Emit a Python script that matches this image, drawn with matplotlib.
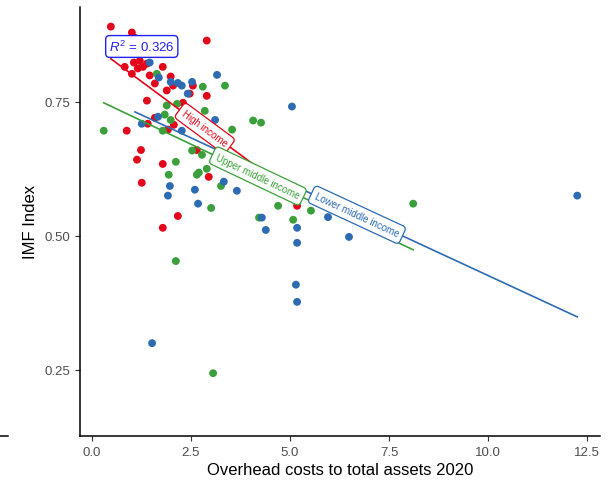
import matplotlib
matplotlib.use("Agg")
import matplotlib.pyplot as plt
import numpy as np

plt.rcParams['font.family'] = ['Liberation Sans', 'DejaVu Sans']
plt.rcParams['mathtext.fontset'] = 'custom'
plt.rcParams['mathtext.rm'] = 'Liberation Sans'
plt.rcParams['mathtext.it'] = 'Liberation Sans:italic'

RED = '#E3061B'
GREEN = '#3BA03B'
BLUE = '#2D6BB3'

# High income
high_x = [0.48, 1.01, 1.09, 2.90, 0.83, 1.06, 1.21, 1.16, 1.29, 1.01, 1.39, 1.79,
          1.46, 1.59, 1.99, 2.05, 1.89, 2.55, 2.47, 1.39, 2.30, 2.90, 1.59, 1.41,
          2.07, 1.92, 0.88, 1.24, 1.14, 2.65, 1.79, 1.26, 2.95, 2.17, 1.79, 5.18]
high_y = [0.890, 0.879, 0.869, 0.864, 0.815, 0.823, 0.826, 0.812, 0.815, 0.802, 0.821, 0.815,
          0.799, 0.784, 0.797, 0.780, 0.771, 0.780, 0.765, 0.752, 0.748, 0.761, 0.720, 0.709,
          0.707, 0.698, 0.696, 0.660, 0.642, 0.660, 0.634, 0.599, 0.610, 0.537, 0.515, 0.556]

# Upper middle income
upper_x = [1.64, 2.80, 3.36, 1.89, 2.15, 1.84, 1.99, 2.85, 4.07, 4.27, 1.79, 3.54,
           0.30, 2.53, 2.78, 2.12, 1.94, 2.65, 2.70, 2.90, 3.26, 3.01, 4.22, 4.70,
           5.08, 5.53, 8.11, 2.12, 3.06]
upper_y = [0.802, 0.778, 0.780, 0.743, 0.746, 0.726, 0.716, 0.733, 0.715, 0.711, 0.696, 0.698,
           0.696, 0.659, 0.651, 0.638, 0.614, 0.614, 0.618, 0.625, 0.593, 0.552, 0.534, 0.556,
           0.530, 0.547, 0.560, 0.453, 0.244]

# Lower middle income
lower_x = [1.46, 1.69, 1.99, 2.17, 2.27, 2.53, 2.42, 3.16, 1.67, 1.26, 2.27, 3.11,
           5.05, 1.97, 1.92, 2.60, 2.68, 3.33, 3.66, 4.29, 4.39, 5.18, 5.18, 5.96,
           6.49, 5.15, 5.18, 1.52, 12.25]
lower_y = [0.823, 0.795, 0.787, 0.785, 0.780, 0.787, 0.765, 0.800, 0.722, 0.709, 0.696, 0.716,
           0.741, 0.593, 0.575, 0.586, 0.560, 0.601, 0.584, 0.534, 0.511, 0.515, 0.487, 0.535,
           0.498, 0.409, 0.377, 0.300, 0.575]

# fitted lines (end points)
high_fit_x, high_fit_y = [0.48, 5.18], [0.830, 0.573]
upper_fit_x, upper_fit_y = [0.30, 8.11], [0.748, 0.474]
lower_fit_x, lower_fit_y = [1.09, 12.25], [0.731, 0.349]

# label positions along the lines
labels = ['High income', 'Upper middle income', 'Lower middle income']
label_x = [2.85, 4.19, 6.69]

r2_text = r'$R^2$ = 0.326'
r2_x, r2_y = 1.26, 0.853

fig = plt.figure(figsize=(6.15, 4.85), dpi=100)
ax = fig.add_axes([0.130, 0.099, 0.846, 0.885])

groups = [
    (high_x, high_y, high_fit_x, high_fit_y, RED),
    (upper_x, upper_y, upper_fit_x, upper_fit_y, GREEN),
    (lower_x, lower_y, lower_fit_x, lower_fit_y, BLUE),
]

for xs, ys, fx, fy, c in groups:
    ax.scatter(xs, ys, s=32, color=c, edgecolors='none', zorder=2)

ax.set_xlim(-0.30, 12.83)
ax.set_ylim(0.127, 0.927)

for (xs, ys, fx, fy, c), lab, lx in zip(groups, labels, label_x):
    ax.plot(fx, fy, color=c, lw=1.2, zorder=3)
    slope = (fy[1] - fy[0]) / (fx[1] - fx[0])
    ly = fy[0] + slope * (lx - fx[0])
    # angle in screen space
    p0 = ax.transData.transform((fx[0], fy[0]))
    p1 = ax.transData.transform((fx[1], fy[1]))
    ang = np.degrees(np.arctan2(p1[1] - p0[1], p1[0] - p0[0]))
    ax.text(lx, ly, lab, color=c, fontsize=7, rotation=ang, rotation_mode='anchor',
            ha='center', va='center', zorder=4,
            bbox=dict(boxstyle='round,pad=0.45,rounding_size=0.4', fc='white', ec=c, lw=0.9))

ax.text(r2_x, r2_y, r2_text, color='#2222EE', fontsize=9.5, ha='center', va='center', zorder=5,
        bbox=dict(boxstyle='round,pad=0.25,rounding_size=0.3', fc='white', ec='#2222EE', lw=1.0))

ax.set_xticks([0.0, 2.5, 5.0, 7.5, 10.0, 12.5])
ax.set_xticklabels(['0.0', '2.5', '5.0', '7.5', '10.0', '12.5'])
ax.set_yticks([0.25, 0.50, 0.75])
ax.set_yticklabels(['0.25', '0.50', '0.75'])
ax.tick_params(labelsize=9.5, labelcolor='#4D4D4D', color='#333333', length=3.5, width=0.8)
ax.spines['top'].set_visible(False)
ax.spines['right'].set_visible(False)
for s in ['left', 'bottom']:
    ax.spines[s].set_linewidth(1.1)
ax.set_xlabel('Overhead costs to total assets 2020', fontsize=12, labelpad=3)
ax.set_ylabel('IMF Index', fontsize=12, labelpad=5)

# stray mark at the far left of the original
fig.add_artist(plt.Line2D([0.0, 0.013], [0.099, 0.099], color='black', lw=1.1,
                          transform=fig.transFigure))

fig.savefig('out.png', dpi=100)
